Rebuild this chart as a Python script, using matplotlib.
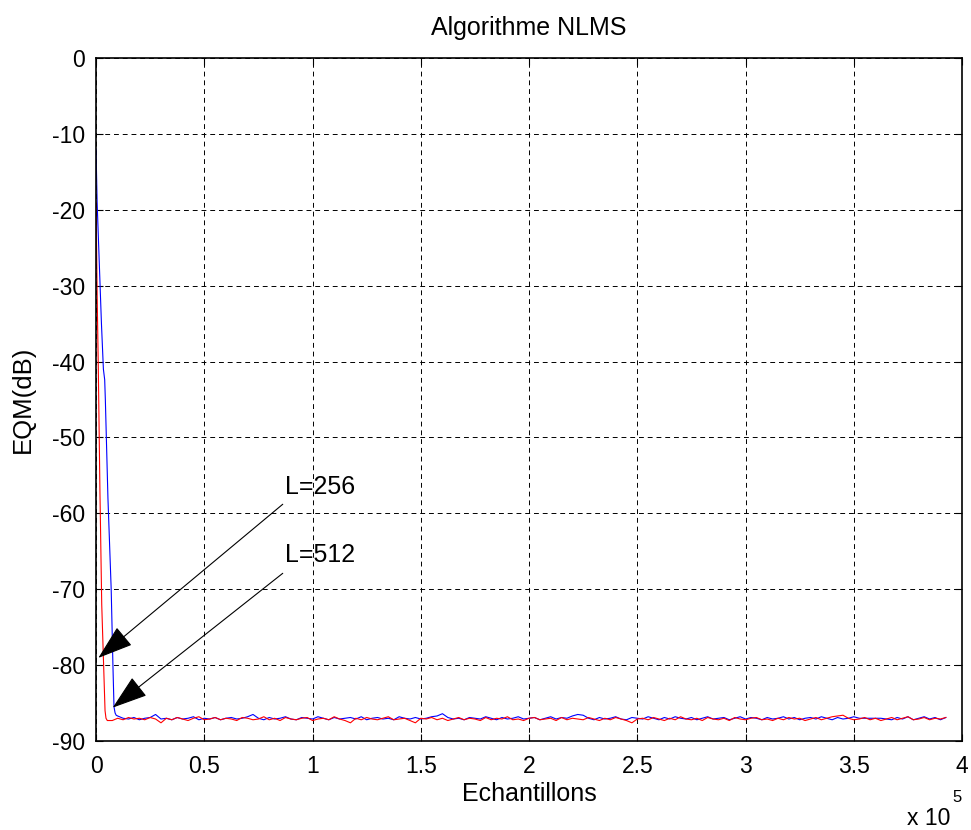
import numpy as np
import matplotlib.pyplot as plt

plt.rcParams['font.family'] = ['Liberation Sans', 'DejaVu Sans']
plt.rcParams['axes.unicode_minus'] = False

# Debut de la convergence (echantillons, dB)
x_debut_512 = [0, 500, 1500, 2500, 3400, 4000, 4300, 5500, 7000, 7800, 8300, 8800, 9300]
y_debut_512 = [-12, -19, -27, -35, -41, -42.4, -45, -58, -70, -80, -85.5, -86.3, -86.6]

x_debut_256 = [0, 500, 1060, 1800, 2630, 3370, 4160, 4600, 5200]
y_debut_256 = [-19, -31, -41, -57, -72, -79, -86, -87.0, -87.3]

# Regime permanent (bruit autour de -87 dB)
pas = 2500
y_fin_512 = [
    -86.7, -87.0, -87.1, -86.9, -87.2, -87.0, -86.9, -86.5, -87.1, -87.0, -87.2,
    -86.9, -87.1, -87.0, -86.8, -87.2, -87.0, -87.1, -86.9, -87.2, -87.0, -86.9,
    -87.1, -87.0, -86.8, -86.5, -87.0, -87.2, -86.9, -87.1, -87.0, -86.8, -87.1,
    -87.2, -86.9, -87.0, -87.1, -86.8, -87.0, -87.2, -86.9, -87.1, -87.0, -86.9,
    -87.1, -86.8, -87.2, -87.0, -86.9, -87.1, -87.0, -87.2, -86.8, -87.0, -87.1,
    -86.9, -87.1, -87.0, -86.8, -86.7, -86.4, -86.9, -87.1, -87.0, -87.2, -86.9,
    -87.0, -87.1, -86.8, -87.0, -87.2, -86.9, -87.1, -87.0, -86.8, -87.1, -87.0,
    -86.9, -87.2, -87.0, -86.8, -87.1, -86.9, -87.0, -86.7, -86.5, -86.6, -87.0,
    -87.2, -86.9, -87.1, -87.0, -86.8, -87.1, -87.2, -86.9, -87.0, -87.1, -86.8,
    -87.0, -87.2, -86.9, -87.1, -86.8, -87.0, -87.1, -86.9, -87.2, -87.0, -86.8,
    -87.1, -87.0, -86.9, -87.2, -87.0, -86.8, -87.1, -86.9, -87.0, -87.2, -86.9,
    -87.1, -87.0, -86.8, -87.1, -86.9, -87.2, -87.0, -86.9, -87.1, -86.8, -87.0,
    -87.2, -86.9, -87.1, -87.0, -86.8, -87.0, -87.0, -87.0, -87.0, -87.0, -87.1,
    -87.2, -86.9, -87.1, -86.8, -87.2, -87.0, -86.8, -87.1, -86.9, -87.2, -86.9,
]
y_fin_256 = [
    -87.3, -87.0, -87.2, -86.9, -87.1, -87.0, -87.2, -86.9, -87.1, -87.6, -87.0,
    -87.2, -86.9, -87.1, -87.3, -87.0, -86.8, -87.2, -87.1, -86.9, -87.2, -87.0,
    -87.1, -87.3, -86.9, -87.0, -87.2, -87.1, -86.8, -87.2, -87.0, -87.3, -86.9,
    -87.1, -87.2, -87.0, -86.9, -87.3, -87.1, -87.0, -87.2, -86.8, -87.1, -87.3,
    -87.6, -87.0, -87.2, -86.9, -87.1, -87.2, -87.0, -86.8, -87.2, -87.1, -87.0,
    -87.3, -87.6, -87.0, -87.1, -86.9, -87.2, -87.0, -87.3, -87.1, -86.9, -87.2,
    -87.0, -87.1, -87.3, -86.9, -87.2, -87.0, -87.1, -86.8, -87.2, -87.1, -87.3,
    -87.0, -86.9, -87.2, -87.1, -87.0, -87.3, -86.9, -87.2, -87.0, -87.1, -87.2,
    -86.9, -87.1, -87.3, -87.0, -87.2, -86.9, -87.1, -87.3, -87.6, -87.1, -87.0,
    -87.2, -86.9, -87.1, -87.3, -87.0, -87.2, -86.8, -87.1, -87.2, -87.0, -87.3,
    -86.9, -87.1, -87.2, -87.0, -87.3, -86.9, -87.1, -87.2, -87.0, -86.9, -87.2,
    -87.1, -87.3, -87.0, -87.2, -86.9, -87.1, -87.0, -87.3, -87.1, -86.9, -87.2,
    -87.0, -86.8, -86.7, -86.6, -87.0, -87.2, -87.1, -86.9, -87.2, -87.0, -87.3,
    -87.1, -86.9, -87.2, -87.0, -86.8, -87.2, -87.1, -86.9, -87.2, -87.0, -87.1,
    -86.9,
]

x_512 = np.concatenate([x_debut_512, 10000 + pas * np.arange(len(y_fin_512))])
y_512 = np.concatenate([y_debut_512, y_fin_512])
x_256 = np.concatenate([x_debut_256, 7500 + pas * np.arange(len(y_fin_256))])
y_256 = np.concatenate([y_debut_256, y_fin_256])

x_ticks = [0, 0.5e5, 1e5, 1.5e5, 2e5, 2.5e5, 3e5, 3.5e5, 4e5]
x_tick_labels = ['0', '0.5', '1', '1.5', '2', '2.5', '3', '3.5', '4']
y_ticks = [0, -10, -20, -30, -40, -50, -60, -70, -80, -90]

fig = plt.figure(figsize=(9.71, 8.30), dpi=100)
ax = fig.add_axes([0.0989, 0.1072, 0.8919, 0.8229])

ax.plot(x_512, y_512, color='b', linewidth=0.8)
ax.plot(x_256, y_256, color='r', linewidth=0.8)

ax.set_xlim(0, 4e5)
ax.set_ylim(-90, 0)
ax.set_xticks(x_ticks)
ax.set_xticklabels(x_tick_labels)
ax.set_yticks(y_ticks)
ax.tick_params(direction='in', top=True, right=True, labelsize=16.5, length=5)
ax.tick_params(axis='x', pad=10)
ax.tick_params(axis='y', pad=8)
for s in ax.spines.values():
    s.set_linewidth(1.2)
ax.grid(True, color='k', linestyle=(0, (5, 4)), linewidth=0.7)

ax.text(0.5, 1.044, 'Algorithme NLMS', fontsize=18, ha='center', va='center',
        transform=ax.transAxes)
ax.set_xlabel('Echantillons', fontsize=18)
ax.xaxis.set_label_coords(0.5, -0.078)
ax.xaxis.label.set_va('center')
ax.set_ylabel('EQM(dB)', fontsize=18.5)
ax.yaxis.set_label_coords(-0.085, 0.5)
ax.yaxis.label.set_va('center')
fig.text(950 / 971, 1 - 818 / 830, 'x 10', fontsize=16.5, ha='right', va='center')
fig.text(952 / 971, 1 - 797 / 830, '5', fontsize=12, ha='left', va='center')

fleche = dict(arrowstyle='-|>,head_length=0.75,head_width=0.25', color='k',
              linewidth=0.8, mutation_scale=30, shrinkA=0, shrinkB=0)
ax.annotate('', xy=(1060, -79.05), xytext=(86240, -58.8), arrowprops=fleche)
ax.annotate('', xy=(7700, -85.6), xytext=(86240, -67.9), arrowprops=fleche)
ax.text(87300, -56.5, 'L=256', fontsize=18, va='center', ha='left')
ax.text(87300, -65.5, 'L=512', fontsize=18, va='center', ha='left')

plt.savefig('out.png', dpi=100)
